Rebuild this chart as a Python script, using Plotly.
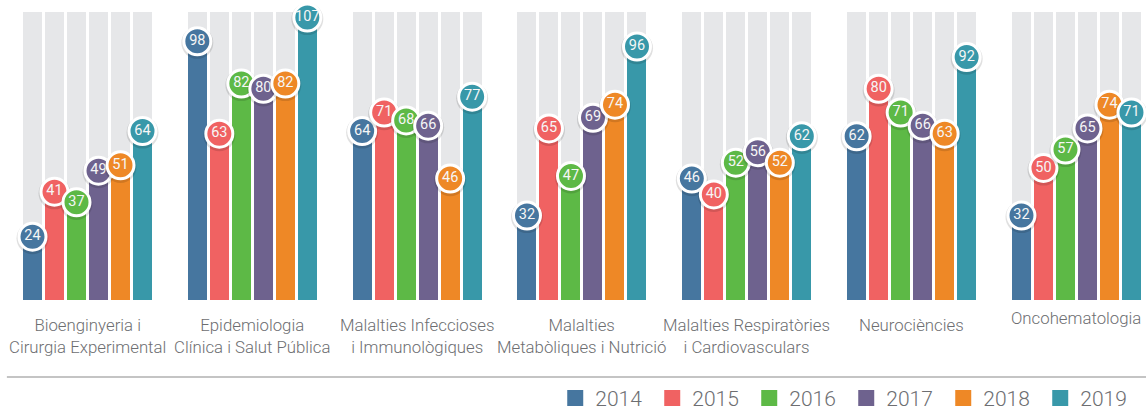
#import libraries
import plotly.graph_objects as go

#categories (research areas) and years
areas = [
    "Bioenginyeria i<br>Cirurgia Experimental",
    "Epidemiologia<br>Clínica i Salut Pública",
    "Malalties Infeccioses<br>i Immunològiques",
    "Malalties<br>Metabòliques i Nutrició",
    "Malalties Respiratòries<br>i Cardiovasculars",
    "Neurociències",
    "Oncohematologia",
]
years = ["2014", "2015", "2016", "2017", "2018", "2019"]

#values per year, one entry per area
v2014 = [24, 98, 64, 32, 46, 62, 32]
v2015 = [41, 63, 71, 65, 40, 80, 50]
v2016 = [37, 82, 68, 47, 52, 71, 57]
v2017 = [49, 80, 66, 69, 56, 66, 65]
v2018 = [51, 82, 46, 74, 52, 63, 74]
v2019 = [64, 107, 77, 96, 62, 92, 71]
series = [v2014, v2015, v2016, v2017, v2018, v2019]

#grey track behind every bar
track_max = 109

colors = ["#46769f", "#f06262", "#5db946", "#6e628e", "#ee8826", "#3898a9"]
track_color = "#e6e7e9"
text_gray = "#6d6e71"
label_font = "Roboto, Liberation Sans, Arial, sans-serif"

W, H = 1146, 413
plot_h = 300          # bar baseline sits 300px below the top
px_per_unit = 2.64

#pixel geometry turned into axis units
group_px = 164.83
bar_px = 19
step_px = 22
first_center = 87.5
bar_w = bar_px / group_px
step = step_px / group_px

fig = go.Figure()

for k, vals in enumerate(series):
    xs = [g + (k - 2.5) * step for g in range(len(areas))]
    #background track
    fig.add_trace(go.Bar(x=xs, y=[track_max] * len(xs), width=bar_w,
                         marker=dict(color=track_color, line_width=0),
                         showlegend=False, hoverinfo="skip"))
    #value bar
    fig.add_trace(go.Bar(x=xs, y=vals, width=bar_w,
                         marker=dict(color=colors[k], line_width=0),
                         name=years[k], showlegend=False))

#value bubbles on top of the bars (soft shadow + white ringed disc)
for k, vals in enumerate(series):
    xs = [g + (k - 2.5) * step for g in range(len(areas))]
    fig.add_trace(go.Scatter(x=xs, y=[v - 0.6 for v in vals], mode="markers",
                             marker=dict(size=32, color="rgba(0,0,0,0.12)"),
                             showlegend=False, hoverinfo="skip", cliponaxis=False))
    fig.add_trace(go.Scatter(x=xs, y=vals, mode="markers+text",
                             text=[str(v) for v in vals], textposition="middle center",
                             textfont=dict(family=label_font, size=14.5, color="#f6f6f6"),
                             marker=dict(size=27, color=colors[k],
                                         line=dict(color="white", width=3)),
                             showlegend=False, cliponaxis=False))

#legend entries
for k, yr in enumerate(years):
    fig.add_trace(go.Scatter(x=[None], y=[None], mode="markers", name=yr,
                             marker=dict(symbol="square", size=16, color=colors[k])))

#area labels under each group
for g, label in enumerate(areas):
    fig.add_annotation(x=g, y=-0.0433 if g < 6 else -0.02, xref="x", yref="paper",
                       text=label, showarrow=False, yanchor="top", xanchor="center",
                       font=dict(family=label_font, size=16.8, color=text_gray, weight=300))

#separator line above the legend
fig.add_shape(type="line", xref="paper", yref="paper", x0=0.006, x1=1,
              y0=-0.257, y1=-0.257, line=dict(color="#c4c4c4", width=2))

fig.update_layout(
    width=W, height=H,
    margin=dict(l=0, r=0, t=0, b=H - plot_h, autoexpand=False),
    barmode="overlay", bargap=0,
    plot_bgcolor="white", paper_bgcolor="white",
    xaxis=dict(range=[-first_center / group_px, (W - first_center) / group_px],
               showgrid=False, zeroline=False, showticklabels=False, fixedrange=True),
    yaxis=dict(range=[0, plot_h / px_per_unit], showgrid=False, zeroline=False,
               showticklabels=False, fixedrange=True),
    legend=dict(orientation="h", x=0.4845, xanchor="left", y=-0.328, yanchor="middle",
                entrywidth=52, entrywidthmode="pixels", tracegroupgap=0,
                font=dict(family=label_font, size=21, color=text_gray, weight=300),
                bgcolor="rgba(0,0,0,0)"),
    showlegend=True,
)

#drop the default page margin so the figure fills the window, no modebar
fig.write_html("out.html", config={"displayModeBar": False},
               post_script="document.body.style.margin='0';")
